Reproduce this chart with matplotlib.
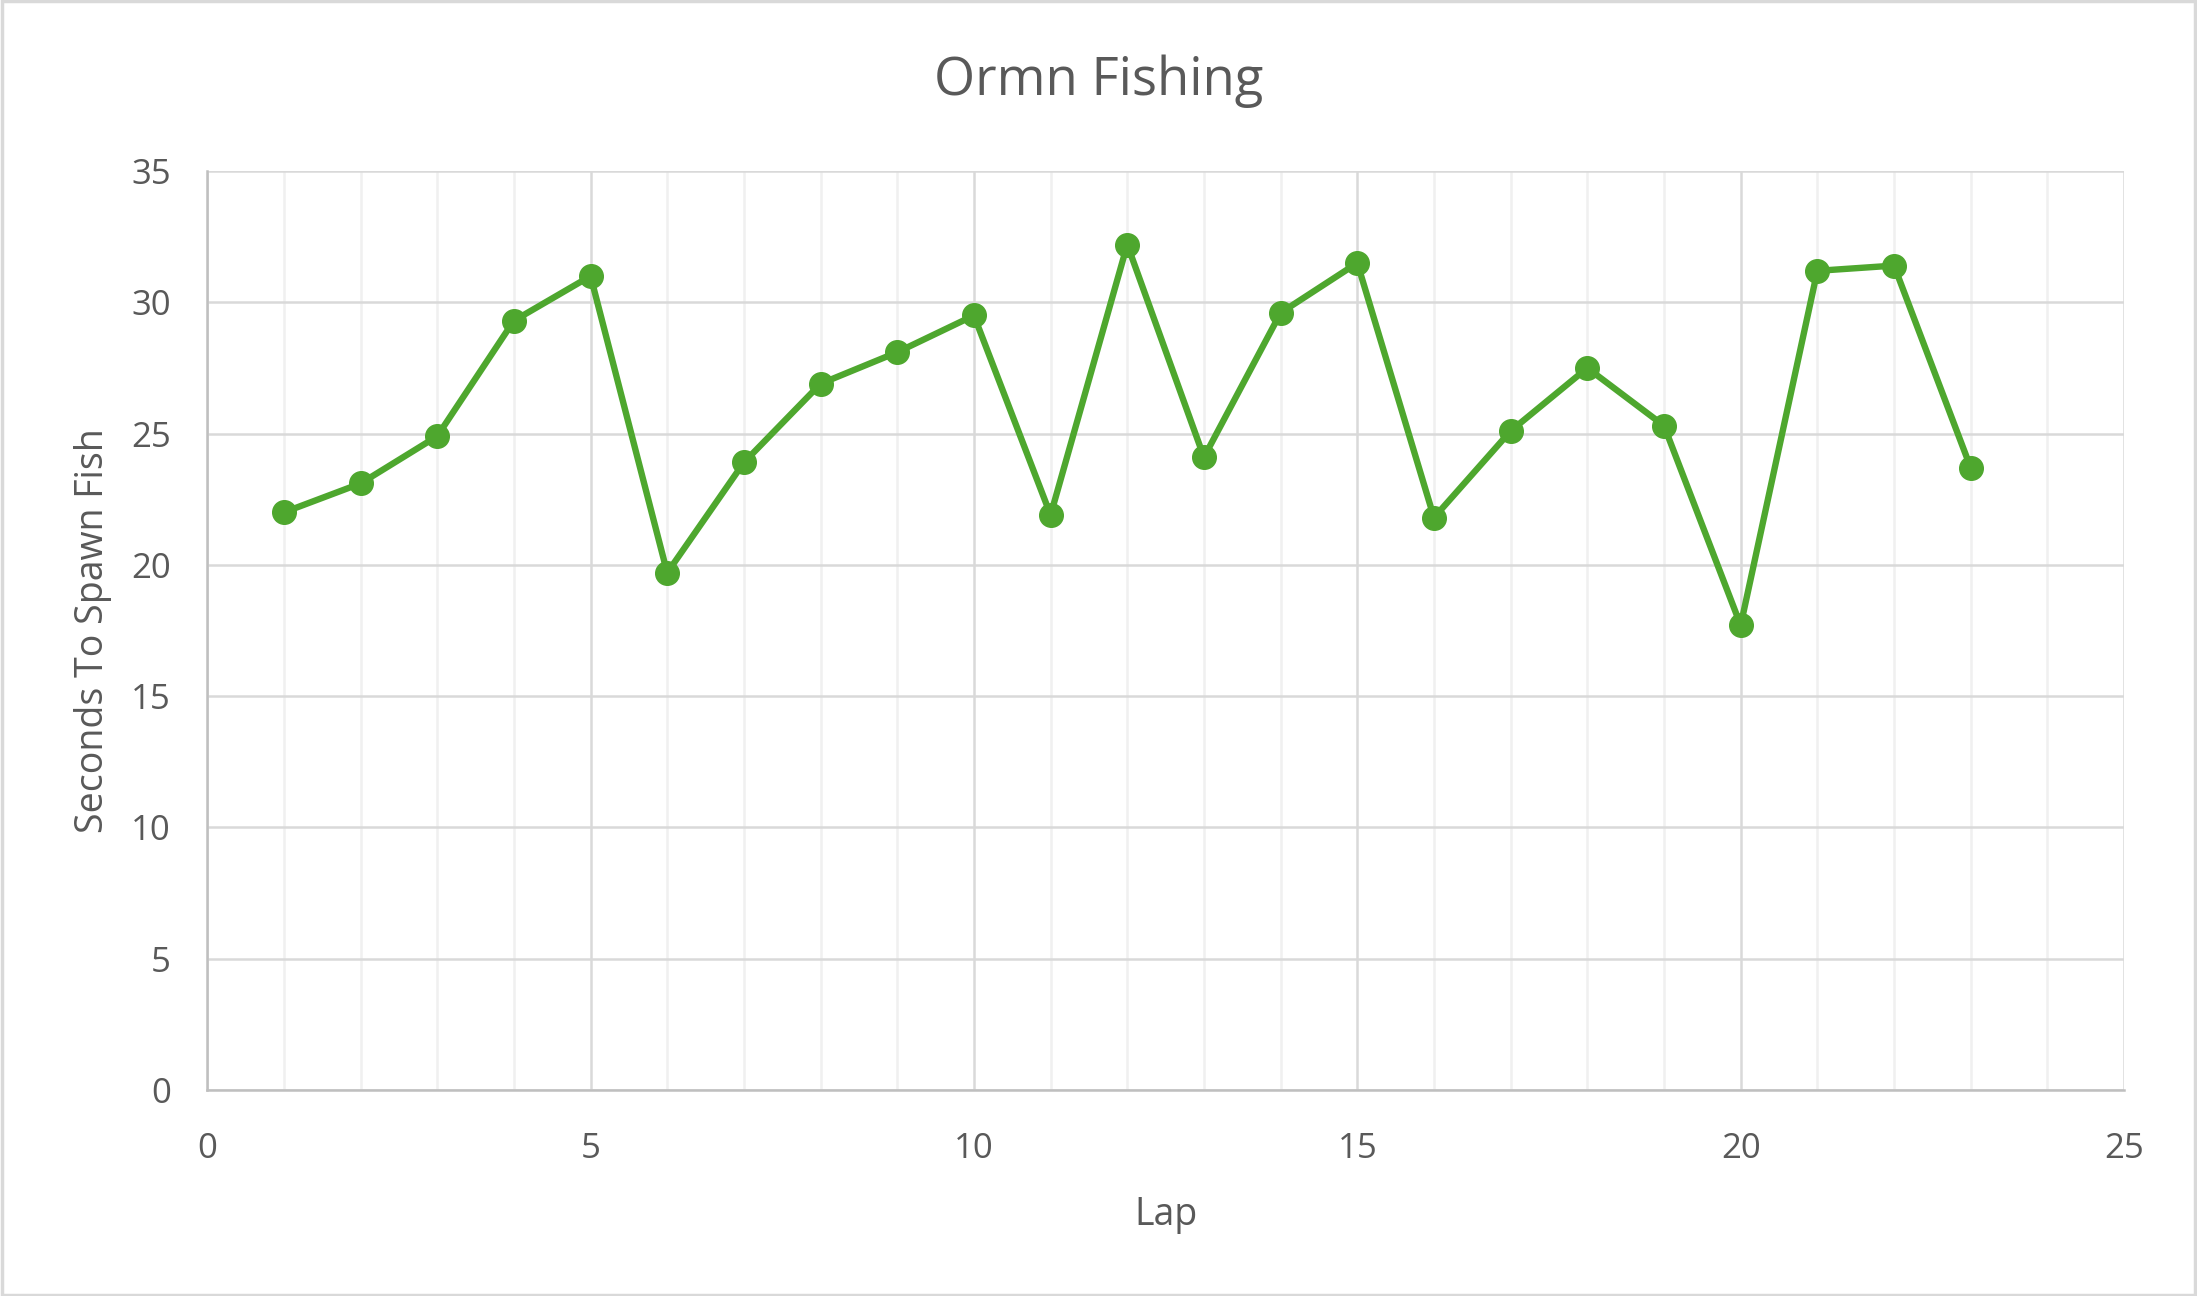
import numpy as np
import matplotlib
matplotlib.use("Agg")
import matplotlib.pyplot as plt
from matplotlib.patches import Rectangle

# lap number and seconds until the fish spawned
laps = list(range(1, 24))
seconds = [22.0, 23.1, 24.9, 29.3, 31.0, 19.7, 23.9, 26.9, 28.1, 29.5,
           21.9, 32.2, 24.1, 29.6, 31.5, 21.8, 25.1, 27.5, 25.3, 17.7,
           31.2, 31.4, 23.7]

x_ticks = [0, 5, 10, 15, 20, 25]
y_ticks = [0, 5, 10, 15, 20, 25, 30, 35]

GREEN = "#4EA72E"
TEXT = "#595959"

plt.rcParams["font.family"] = ["Open Sans", "DejaVu Sans"]

fig = plt.figure(figsize=(21.97, 12.96), dpi=100)
ax = fig.add_axes([0.0943, 0.159, 0.8725, 0.709])

ax.plot(laps, seconds, color=GREEN, linewidth=4.6, marker="o",
        markersize=17, zorder=3, clip_on=False)

ax.set_xlim(0, 25)
ax.set_ylim(0, 35)
ax.set_xticks(x_ticks)
ax.set_yticks(y_ticks)
ax.set_xticks(np.arange(0, 26, 1), minor=True)

ax.grid(True, which="major", color="#D9D9D9", linewidth=1.8, zorder=1)
ax.grid(True, which="minor", axis="x", color="#F0F0F0", linewidth=1.8, zorder=0)

for side in ["top", "right"]:
    ax.spines[side].set_visible(False)
for side in ["left", "bottom"]:
    ax.spines[side].set_color("#BFBFBF")
    ax.spines[side].set_linewidth(1.8)
    ax.spines[side].set_zorder(2)

ax.tick_params(which="both", length=0, colors=TEXT, labelsize=25)
ax.tick_params(axis="y", pad=26)
ax.tick_params(axis="x", pad=30)

ax.set_xlabel("Lap", fontsize=27, color=TEXT, labelpad=22)
ax.set_ylabel("Seconds To Spawn Fish", fontsize=27, color=TEXT, labelpad=14)
fig.text(0.5, 0.937, "Ormn Fishing", ha="center", va="center",
         fontsize=38, color=TEXT)

fig.patches.append(Rectangle((0.001, 0.001), 0.998, 0.998, transform=fig.transFigure,
                             fill=False, edgecolor="#D9D9D9", linewidth=2.5))

fig.savefig("out.png", dpi=100, facecolor="white")
